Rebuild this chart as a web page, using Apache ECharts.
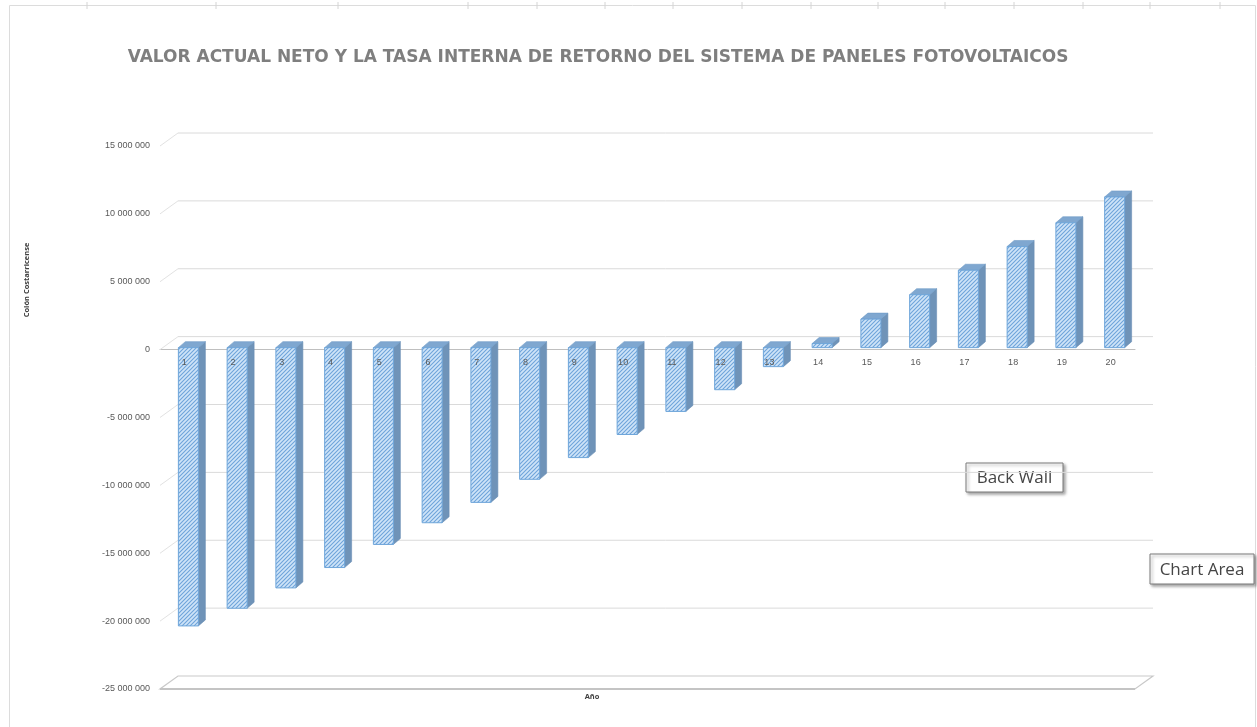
<!DOCTYPE html>
<html>
<head>
<meta charset="utf-8">
<script src="https://cdn.jsdelivr.net/npm/echarts@6/dist/echarts.min.js"></script>
<style>
  html, body { margin: 0; padding: 0; background: #ffffff; }
  #chart { width: 1257px; height: 727px; }
</style>
</head>
<body>
<div id="chart"></div>
<script>
// Años del proyecto
const years = ['1', '2', '3', '4', '5', '6', '7', '8', '9', '10',
               '11', '12', '13', '14', '15', '16', '17', '18', '19', '20'];

// Valor actual neto acumulado (colones)
const npv = [-20500000, -19200000, -17700000, -16200000, -14500000,
             -12900000, -11400000, -9700000, -8100000, -6400000,
             -4700000, -3100000, -1400000, 300000, 2100000,
             3900000, 5700000, 7450000, 9200000, 11100000];

// Marcas del eje vertical
const yTicks = [-25000000, -20000000, -15000000, -10000000, -5000000,
                0, 5000000, 10000000, 15000000];

const chartTitle = 'VALOR ACTUAL NETO Y LA TASA INTERNA DE RETORNO DEL SISTEMA DE PANELES FOTOVOLTAICOS';
const yName = 'Colón Costarricense';
const xName = 'Año';

// Profundidad de la pared y de las barras (vista oblicua)
const WALL_DX = 18, WALL_DY = -13;
const BAR_DX = 7, BAR_DY = -6;
const BAR_SHIFT_X = 4, BAR_SHIFT_Y = -2;
const BAR_W = 20;

function fmt(v) {
  return String(v).replace(/\B(?=(\d{3})+(?!\d))/g, ' ');
}

// Relleno rayado de la cara frontal
function hatchCanvas() {
  const c = document.createElement('canvas');
  c.width = 4; c.height = 4;
  const g = c.getContext('2d');
  g.fillStyle = '#cfe4f8';
  g.fillRect(0, 0, 4, 4);
  g.strokeStyle = '#6ea4da';
  g.lineWidth = 1.1;
  g.beginPath();
  g.moveTo(-1, 5); g.lineTo(5, -1);
  g.moveTo(-1, 1); g.lineTo(1, -1);
  g.moveTo(3, 5); g.lineTo(5, 3);
  g.stroke();
  return c;
}
const hatch = hatchCanvas();

function renderBar(params, api) {
  const idx = api.value(0);
  const v = api.value(1);
  const p0 = api.coord([idx, 0]);
  const p1 = api.coord([idx, v]);
  const xl = p0[0] - BAR_W / 2 + BAR_SHIFT_X;
  const xr = xl + BAR_W;
  const top = Math.min(p0[1], p1[1]) + BAR_SHIFT_Y;
  const bot = Math.max(p0[1], p1[1]) + BAR_SHIFT_Y;
  return {
    type: 'group',
    children: [
      { type: 'polygon',
        shape: { points: [[xr, top], [xr + BAR_DX, top + BAR_DY], [xr + BAR_DX, bot + BAR_DY], [xr, bot]] },
        style: { fill: '#6f93b8', stroke: '#6a8fb6', lineWidth: 0.6 } },
      { type: 'polygon',
        shape: { points: [[xl, top], [xr, top], [xr + BAR_DX, top + BAR_DY], [xl + BAR_DX, top + BAR_DY]] },
        style: { fill: '#7fa7d0', stroke: '#6f9ac6', lineWidth: 0.6 } },
      { type: 'rect',
        shape: { x: xl, y: top, width: BAR_W, height: Math.max(bot - top, 0.5) },
        style: { fill: { image: hatch, repeat: 'repeat' }, stroke: '#6fa6da', lineWidth: 1 } }
    ]
  };
}

// Rótulos de los años, sobre la línea del cero
function renderYearLabel(params, api) {
  const p = api.coord([api.value(0), 0]);
  return {
    type: 'text',
    x: p[0], y: p[1] + 13,
    style: { text: years[params.dataIndex], fill: '#595959',
             font: '9px "Liberation Sans", sans-serif',
             align: 'center', verticalAlign: 'middle' }
  };
}

function renderWall(params, api) {
  const v = api.value(1);
  const y = api.coord([0, v])[1];
  const cs = params.coordSys;
  const x0 = cs.x, x1 = cs.x + cs.width;
  if (v === yTicks[0]) {
    // piso
    return {
      type: 'group',
      children: [
        { type: 'polygon',
          shape: { points: [[x0, y], [x1, y], [x1 + WALL_DX, y + WALL_DY], [x0 + WALL_DX, y + WALL_DY]] },
          style: { fill: '#ffffff', stroke: '#c9c9c9', lineWidth: 1.2 } },
        { type: 'line',
          shape: { x1: x0, y1: y, x2: x1, y2: y },
          style: { stroke: '#c4c4c4', lineWidth: 2 } }
      ]
    };
  }
  return {
    type: 'group',
    children: [
      { type: 'line',
        shape: { x1: x0, y1: y, x2: x0 + WALL_DX, y2: y + WALL_DY },
        style: { stroke: '#e2e2e2', lineWidth: 1 } },
      { type: 'line',
        shape: { x1: x0 + WALL_DX, y1: y + WALL_DY, x2: x1 + WALL_DX, y2: y + WALL_DY },
        style: { stroke: '#dadada', lineWidth: 1 } }
    ]
  };
}

const sheetCols = [87, 216, 338, 468, 537, 605, 673, 742, 811, 878, 945, 1014, 1083, 1150, 1220];

function callout(x, y, w, h, text) {
  return {
    type: 'group', x: x, y: y,
    children: [
      { type: 'rect', shape: { x: 0, y: 0, width: w, height: h },
        style: { fill: '#ffffff', stroke: '#7a7a7a', lineWidth: 1,
                 shadowBlur: 3, shadowOffsetX: 2, shadowOffsetY: 2, shadowColor: 'rgba(0,0,0,0.35)' } },
      { type: 'text', x: w / 2, y: h / 2 + 1,
        style: { text: text, fill: '#454545', font: '17px "Open Sans", sans-serif',
                 align: 'center', verticalAlign: 'middle' } }
    ]
  };
}

const graphics = [
  { type: 'rect', shape: { x: 9.5, y: 5.5, width: 1246, height: 740 },
    style: { fill: 'none', stroke: '#dcdcdc', lineWidth: 1 }, z: -10 },
  ...sheetCols.map(x => ({ type: 'line', shape: { x1: x, y1: 2, x2: x, y2: 9 },
    style: { stroke: '#d4d4d4', lineWidth: 1 }, z: -10 })),
  { type: 'text', x: 598, y: 58,
    style: { text: chartTitle, fill: '#7f7f7f', font: 'bold 17px "DejaVu Sans", sans-serif',
             align: 'center', verticalAlign: 'middle' } },
  { type: 'text', x: 27, y: 280, rotation: Math.PI / 2,
    style: { text: yName, fill: '#404040', font: 'bold 7.5px "Open Sans", sans-serif',
             align: 'center', verticalAlign: 'middle' } },
  { type: 'text', x: 592, y: 697,
    style: { text: xName, fill: '#404040', font: 'bold 7.5px "Open Sans", sans-serif',
             align: 'center', verticalAlign: 'middle' } },
  callout(966, 463, 97, 29, 'Back Wall'),
  callout(1150, 554, 104, 30, 'Chart Area')
];

const chart = echarts.init(document.getElementById('chart'), null, { renderer: 'canvas' });
chart.setOption({
  backgroundColor: '#ffffff',
  animation: false,
  grid: { left: 160, right: 122, top: 146, bottom: 38, containLabel: false },
  xAxis: {
    type: 'category',
    data: years,
    axisLine: { onZero: true, lineStyle: { color: '#bfbfbf', width: 1 } },
    axisTick: { show: false },
    axisLabel: { show: false },
    splitLine: { show: false }
  },
  yAxis: {
    type: 'value',
    min: -25000000, max: 15000000, interval: 5000000,
    axisLine: { show: false },
    axisTick: { show: false },
    splitLine: { show: false },
    axisLabel: { fontSize: 9, color: '#595959', margin: 10, fontFamily: 'Liberation Sans',
                 formatter: fmt }
  },
  series: [
    { type: 'custom', name: 'wall', z: 1, clip: false, silent: true,
      data: yTicks.map(v => [0, v]), renderItem: renderWall },
    { type: 'custom', name: 'VAN', z: 3, clip: false,
      data: npv.map((v, i) => [i, v]), renderItem: renderBar,
      encode: { x: 0, y: 1 } },
    { type: 'custom', name: 'years', z: 5, clip: false, silent: true,
      data: years.map((y, i) => [i, 0]), renderItem: renderYearLabel }
  ],
  graphic: graphics
});
</script>
</body>
</html>
